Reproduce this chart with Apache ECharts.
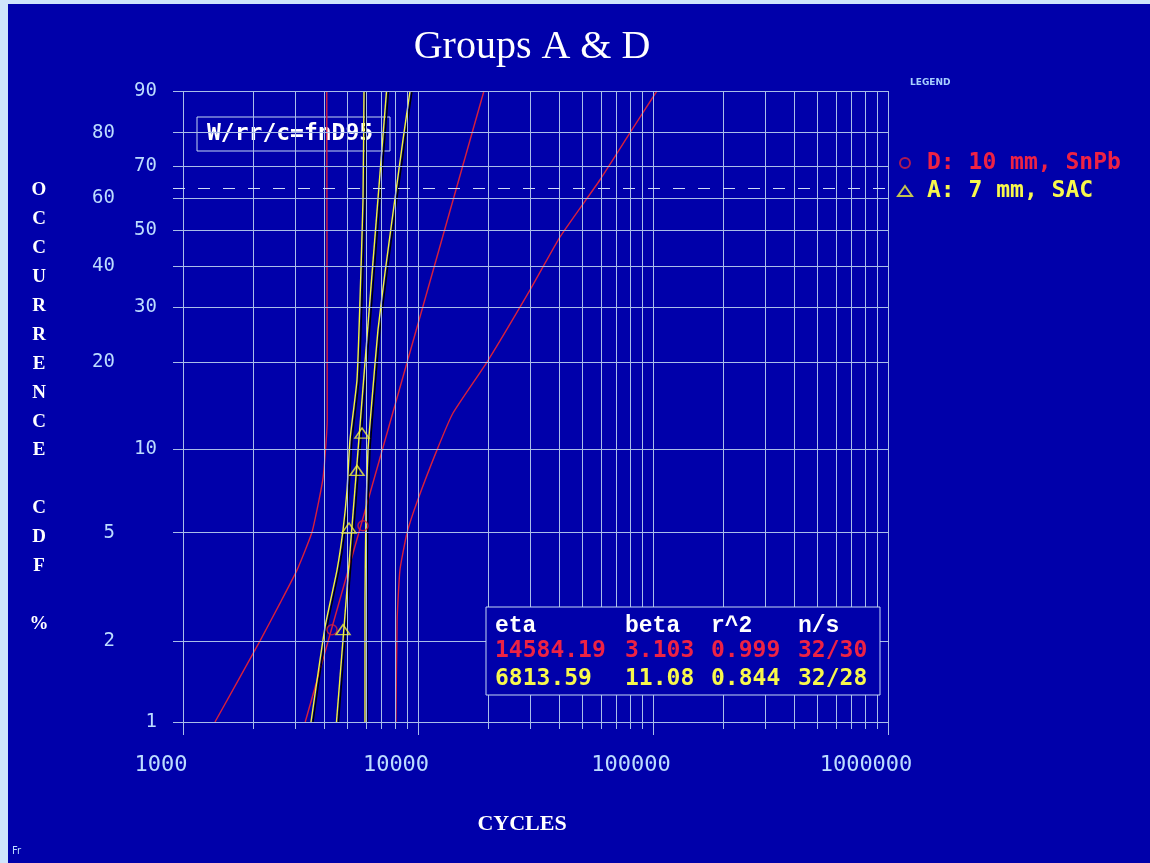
<!DOCTYPE html>
<html>
<head>
<meta charset="utf-8">
<title>Groups A & D</title>
<script src="https://cdn.jsdelivr.net/npm/echarts@6/dist/echarts.min.js"></script>
<style>
  html, body { margin: 0; padding: 0; background: #0000aa; }
  #chart { width: 1150px; height: 863px; }
</style>
</head>
<body>
<div id="chart"></div>
<script>
// ---- Weibull probability plot data ----
// Percent (CDF) gridlines and which label column each value sits in
const yTickPercents = [1, 2, 5, 10, 20, 30, 40, 50, 60, 70, 80, 90];
const yTickColumns  = ['R', 'L', 'L', 'R', 'L', 'R', 'L', 'R', 'L', 'R', 'L', 'R'];
// Cycle decades for the log axis grid
const xDecades = [1000, 10000, 100000];
const xDecadeSteps = [1, 2, 3, 4, 5, 6, 7, 8, 9];
const xLastTick = 1000000;
const characteristicPercent = 63.2;

// Group D: 10 mm, SnPb
const dName = 'D: 10 mm, SnPb';
const dEta = 14584.19;
const dBeta = 3.103;
const dFailCycles  = [4306, 5834];
const dFailPercent = [2.2, 5.3];
const dLowerCycles  = [1368, 2127, 2588, 3055, 3540, 3945, 4110, 4100, 4090];
const dLowerPercent = [1, 2.0, 2.76, 3.65, 5.03, 7.9, 12.7, 40, 90];
const dUpperCycles  = [8054, 8150, 8378, 8978, 9905, 12050, 14094, 19660, 29990, 40230, 59430, 79770, 103900];
const dUpperPercent = [1, 2.39, 3.65, 4.99, 6.47, 9.94, 13.4, 20.0, 34.0, 48.1, 65.7, 79.9, 90];

// Group A: 7 mm, SAC
const aName = 'A: 7 mm, SAC';
const aEta = 6813.59;
const aBeta = 11.08;
const aFailCycles  = [4797, 5086, 5500, 5776];
const aFailPercent = [2.2, 5.2, 8.4, 11.4];
const aLowerCycles  = [3505, 4021, 4522, 4797, 4988, 5136, 5500, 5665, 5834, 5891];
const aLowerPercent = [1, 2.25, 3.65, 5.12, 7.14, 10.8, 17.4, 31.7, 59.4, 90];
const aUpperCycles  = [5949, 5949, 6007, 6126, 6371, 6756, 7237, 7827, 8634, 9248];
const aUpperPercent = [1, 2.83, 6.05, 9.94, 14.9, 25.5, 38.2, 55.3, 78.0, 90];

// Fit summary table
const statsHeader = ['eta', 'beta', 'r^2', 'n/s'];
const statsD = ['14584.19', '3.103', '0.999', '32/30'];
const statsA = ['6813.59', '11.08', '0.844', '32/28'];

const methodNote = 'W/rr/c=fnD95';
const yTitle = 'OCCURRENCE CDF %';

// ---- colours ----
const BG = '#0000aa';
const GRID = '#a9bde9';
const TICK_TEXT = '#bcdcff';
const RED = '#d81f3c';
const RED_TEXT = '#ee2244';
const YELLOW = '#f4f43a';
const YELLOW_TEXT = '#f8f84c';

// ---- scale helpers ----
// Weibull ordinate: ln(-ln(1-F))
function weib(p) { return Math.log(-Math.log(1 - p / 100)); }
function pairs(cycles, percents) { return cycles.map((c, i) => [c, weib(percents[i])]); }
// Fitted line from the stated eta / beta, evaluated at the plot's percent limits
function fitLine(eta, beta) {
  const ends = [yTickPercents[0], yTickPercents[yTickPercents.length - 1]];
  return ends.map(p => [eta * Math.pow(-Math.log(1 - p / 100), 1 / beta), weib(p)]);
}

// ---- layout ----
const plotLeft = 173, plotRight = 888, plotTop = 91, axisY = 722, plotBottom = 735;
const decadePx = (plotRight - 183) / 3;
const wTop = weib(yTickPercents[yTickPercents.length - 1]);
const wBottom = weib(yTickPercents[0]);
const pxPerW = (axisY - plotTop) / (wTop - wBottom);
const yMin = wBottom - (plotBottom - axisY) / pxPerW;
const xMin = Math.pow(10, Math.log10(xDecades[0]) - (183 - plotLeft) / decadePx);

// ---- grid lines as mark lines ----
const gridLines = [];
yTickPercents.forEach((p, i) => {
  gridLines.push([
    { coord: [xMin, weib(p)],
      label: { show: true, position: 'start', distance: 16, formatter: String(p),
               color: TICK_TEXT, fontFamily: 'DejaVu Sans Mono', fontSize: 19,
               padding: yTickColumns[i] === 'L' ? [0, 42, 0, 0] : 0 } },
    { coord: [xLastTick, weib(p)] }
  ]);
});
const xGridValues = [];
xDecades.forEach(d => xDecadeSteps.forEach(m => xGridValues.push([d * m, m === 1])));
xGridValues.push([xLastTick, true]);
xGridValues.forEach(([v, major]) => {
  gridLines.push([
    { coord: [v, wTop] },
    { coord: [v, wBottom - (major ? 13 : 7) / pxPerW] }
  ]);
});
gridLines.push([
  { coord: [xMin, weib(characteristicPercent)],
    lineStyle: { type: [12, 13], color: '#cfdcf6' } },
  { coord: [xLastTick, weib(characteristicPercent)] }
]);

function lineSeries(name, data, color, smooth, shadow) {
  return {
    name, type: 'line', data, smooth,
    symbol: 'none', showSymbol: false, silent: true, z: 3,
    lineStyle: Object.assign({ color, width: 1.4 },
      shadow ? { shadowColor: '#000', shadowOffsetX: 2, shadowBlur: 0 } : {})
  };
}

const chart = echarts.init(document.getElementById('chart'), null, { renderer: 'canvas' });
chart.setOption({
  backgroundColor: BG,
  animation: false,
  title: {
    text: 'Groups A & D', left: 527, top: 22, textAlign: 'center',
    textStyle: { color: '#ffffff', fontFamily: 'Liberation Serif', fontSize: 40, fontWeight: 'normal' }
  },
  legend: {
    orient: 'vertical', left: 892, top: 146, itemWidth: 14, itemHeight: 10, itemGap: 4,
    selectedMode: false,
    textStyle: { fontFamily: 'DejaVu Sans Mono', fontWeight: 'bold', fontSize: 23, lineHeight: 24,
                 padding: [0, 0, 0, 10] },
    data: [
      { name: dName, textStyle: { color: RED_TEXT } },
      { name: aName, textStyle: { color: YELLOW_TEXT } }
    ]
  },
  grid: { left: plotLeft, top: plotTop, width: plotRight - plotLeft, height: plotBottom - plotTop, containLabel: false },
  xAxis: {
    type: 'log', logBase: 10, min: xMin, max: xLastTick, splitNumber: 3,
    axisLine: { show: false }, axisTick: { show: false },
    splitLine: { show: false }, minorTick: { show: false }, minorSplitLine: { show: false },
    axisLabel: {
      margin: 19, color: TICK_TEXT, fontFamily: 'DejaVu Sans Mono', fontSize: 22,
      padding: [0, 44, 0, 0],
      formatter: v => {
        const e = Math.log10(v);
        return Math.abs(e - Math.round(e)) < 1e-6 ? String(Math.pow(10, Math.round(e))) : '';
      }
    },
    name: 'CYCLES', nameLocation: 'middle', nameGap: 78,
    nameTextStyle: { color: '#ffffff', fontFamily: 'Liberation Serif', fontWeight: 'bold', fontSize: 22, padding: [0, 17, 0, 0] }
  },
  yAxis: {
    type: 'value', min: yMin, max: wTop,
    axisLine: { show: false }, axisTick: { show: false },
    axisLabel: { show: false }, splitLine: { show: false }
  },
  series: [
    {
      name: 'grid', type: 'line', data: [], silent: true, z: 1,
      markLine: {
        silent: true, symbol: ['none', 'none'], animation: false,
        lineStyle: { color: GRID, width: 1, type: 'solid' },
        label: { show: false },
        emphasis: { disabled: true },
        data: gridLines
      }
    },
    lineSeries('D fit', fitLine(dEta, dBeta), RED, false, false),
    lineSeries('D lower', pairs(dLowerCycles, dLowerPercent), RED, 0.15, false),
    lineSeries('D upper', pairs(dUpperCycles, dUpperPercent), RED, 0.15, false),
    lineSeries('A fit', fitLine(aEta, aBeta), YELLOW, false, true),
    lineSeries('A lower', pairs(aLowerCycles, aLowerPercent), YELLOW, 0.15, true),
    lineSeries('A upper', pairs(aUpperCycles, aUpperPercent), YELLOW, 0.15, true),
    {
      name: dName, type: 'scatter', data: pairs(dFailCycles, dFailPercent), z: 5,
      symbol: 'circle', symbolSize: 10,
      itemStyle: { color: 'rgba(0,0,0,0)', borderColor: RED, borderWidth: 1.5 }
    },
    {
      name: aName, type: 'scatter', data: pairs(aFailCycles, aFailPercent), z: 5,
      symbol: 'triangle', symbolSize: [14, 10],
      itemStyle: { color: 'rgba(0,0,0,0)', borderColor: YELLOW, borderWidth: 1.5 }
    }
  ],
  graphic: [
    { type: 'rect', x: 0, y: 0, shape: { width: 8, height: 863 }, style: { fill: '#cfe4fb' }, silent: true },
    { type: 'rect', x: 0, y: 0, shape: { width: 1150, height: 4 }, style: { fill: '#cfe4fb' }, silent: true },
    { type: 'text', x: 910, y: 78,
      style: { text: 'LEGEND', fill: '#a8d0ff', fontFamily: 'DejaVu Sans', fontWeight: 'bold', fontSize: 9 } },
    { type: 'text', x: 39, y: 176,
      style: { text: yTitle.split('').join('\n'), fill: '#ffffff', fontFamily: 'Liberation Serif',
               fontWeight: 'bold', fontSize: 19, lineHeight: 28.9, align: 'center', verticalAlign: 'top' } },
    { type: 'rect', x: 197, y: 117, shape: { width: 193, height: 34 },
      style: { fill: 'none', stroke: '#c4d6f4', lineWidth: 1 } },
    { type: 'text', x: 207, y: 134,
      style: { text: methodNote, fill: '#ffffff', fontFamily: 'DejaVu Sans Mono', fontWeight: 'bold',
               fontSize: 23, verticalAlign: 'middle' } },
    { type: 'rect', x: 486, y: 607, shape: { width: 394, height: 88 },
      style: { fill: BG, stroke: '#c4d6f4', lineWidth: 1 }, z: 10 },
    ...[statsHeader, statsD, statsA].flatMap((row, r) => row.map((txt, c) => ({
      type: 'text', z: 11,
      x: [495, 625, 711, 798][c], y: [626, 651, 679][r],
      style: {
        text: txt, fill: ['#ffffff', RED_TEXT, YELLOW_TEXT][r],
        fontFamily: r === 0 ? 'Liberation Mono' : 'DejaVu Sans Mono', fontWeight: 'bold',
        fontSize: 23, verticalAlign: 'middle'
      }
    }))),
    { type: 'text', x: 12, y: 846,
      style: { text: 'Fr', fill: '#bcdcff', fontFamily: 'DejaVu Sans', fontSize: 10 } }
  ]
});
</script>
</body>
</html>
